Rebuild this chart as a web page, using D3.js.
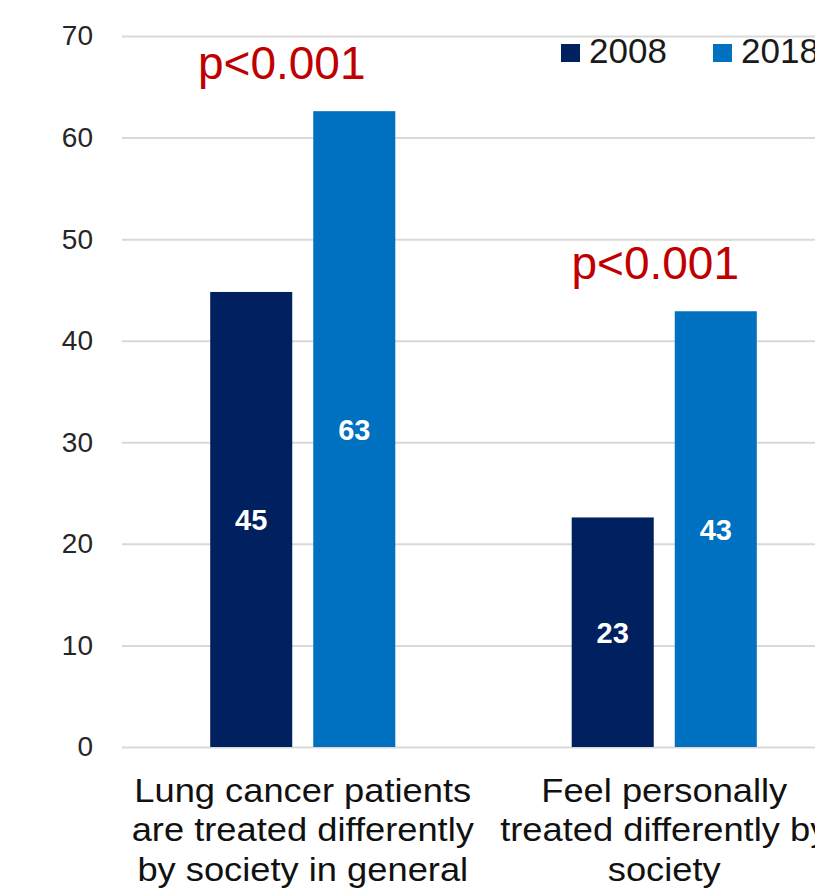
<!DOCTYPE html>
<html>
<head>
<meta charset="utf-8">
<script src="https://cdn.jsdelivr.net/npm/d3@7"></script>
<style>
  body { margin: 0; background: #fff; }
  svg { display: block; font-family: "Liberation Sans", Arial, sans-serif; }
</style>
</head>
<body>
<svg id="chart" width="815" height="892"></svg>
<script>
// Datos del gráfico
const categories = [
  "Lung cancer patients|are treated differently|by society in general",
  "Feel personally|treated differently by|society"
];
const series = ["2008", "2018"];
const values2008 = [44.8, 22.6];
const values2018 = [62.6, 42.9];
const yTicks = [0, 10, 20, 30, 40, 50, 60, 70];
const pLabels = ["p<0.001", "p<0.001"];
const pShift = [-21, -9];

const colors = { "2008": "#002060", "2018": "#0070C0" };

let svg = d3.select("#chart");

let y = d3.scaleLinear().domain([0, 70]).range([747, 36]);
let x0 = d3.scaleBand().domain(categories).range([122, 845])
  .paddingInner(0.488).paddingOuter(0.244);
let x1 = d3.scaleBand().domain(series).range([0, x0.bandwidth()])
  .paddingInner(0.204);

// Líneas de la cuadrícula
let grid = svg.append("g")
  .attr("transform", "translate(122,0)")
  .call(d3.axisLeft(y).tickValues(yTicks).tickSize(-(845 - 122)).tickFormat(""));
grid.select(".domain").remove();
grid.selectAll("line").attr("stroke", "#d9d9d9").attr("stroke-width", 2);

// Etiquetas del eje Y
let yAxis = svg.append("g")
  .attr("transform", "translate(122,0)")
  .call(d3.axisLeft(y).tickValues(yTicks).tickSize(0).tickPadding(29));
yAxis.select(".domain").remove();
yAxis.selectAll("text")
  .attr("font-size", 28)
  .attr("fill", "#262626")
  .attr("font-family", "Liberation Sans, Arial, sans-serif");

// Barras
let rows = categories.map((c, i) => ({
  cat: c,
  vals: [{ s: "2008", v: values2008[i] }, { s: "2018", v: values2018[i] }]
}));

let groups = svg.selectAll("g.grp")
  .data(rows)
  .enter()
  .append("g")
  .attr("class", "grp")
  .attr("transform", d => `translate(${x0(d.cat)},0)`);

groups.selectAll("rect")
  .data(d => d.vals)
  .enter()
  .append("rect")
  .attr("x", d => x1(d.s))
  .attr("y", d => y(d.v))
  .attr("width", x1.bandwidth())
  .attr("height", d => y(0) - y(d.v))
  .attr("fill", d => colors[d.s]);

groups.selectAll("text.val")
  .data(d => d.vals)
  .enter()
  .append("text")
  .attr("class", "val")
  .attr("x", d => x1(d.s) + x1.bandwidth() / 2)
  .attr("y", d => (y(d.v) + y(0)) / 2)
  .attr("dy", "0.36em")
  .attr("text-anchor", "middle")
  .attr("font-size", 29)
  .attr("font-weight", "bold")
  .attr("fill", "#fff")
  .text(d => d3.format(".0f")(d.v));

// Valores p
svg.selectAll("text.pval")
  .data(rows)
  .enter()
  .append("text")
  .attr("class", "pval")
  .attr("x", (d, i) => x0(d.cat) + x0.bandwidth() / 2 + pShift[i])
  .attr("y", d => y(d3.max(d.vals, e => e.v)) - 32)
  .attr("text-anchor", "middle")
  .attr("font-size", 46)
  .attr("fill", "#C00000")
  .text((d, i) => pLabels[i]);

// Etiquetas de categoría (un poco ensanchadas, como en la imagen)
let catLabels = svg.selectAll("text.cat")
  .data(categories)
  .enter()
  .append("text")
  .attr("class", "cat")
  .attr("transform", d => `translate(${x0(d) + x0.bandwidth() / 2},0) scale(1.1,1)`)
  .attr("text-anchor", "middle")
  .attr("font-size", 33)
  .attr("fill", "#111");

catLabels.selectAll("tspan")
  .data(d => d.split("|"))
  .enter()
  .append("tspan")
  .attr("x", 0)
  .attr("y", (d, i) => 802 + i * 39.5)
  .text(d => d);

// Leyenda
let legend = svg.selectAll("g.leg")
  .data(series)
  .enter()
  .append("g")
  .attr("class", "leg")
  .attr("transform", (d, i) => `translate(${561 + i * 152},44)`);

legend.append("rect")
  .attr("width", 19)
  .attr("height", 18)
  .attr("fill", d => colors[d]);

legend.append("text")
  .attr("x", 28)
  .attr("y", 19)
  .attr("font-size", 35)
  .attr("fill", "#1a1a1a")
  .text(d => d);
</script>
</body>
</html>
